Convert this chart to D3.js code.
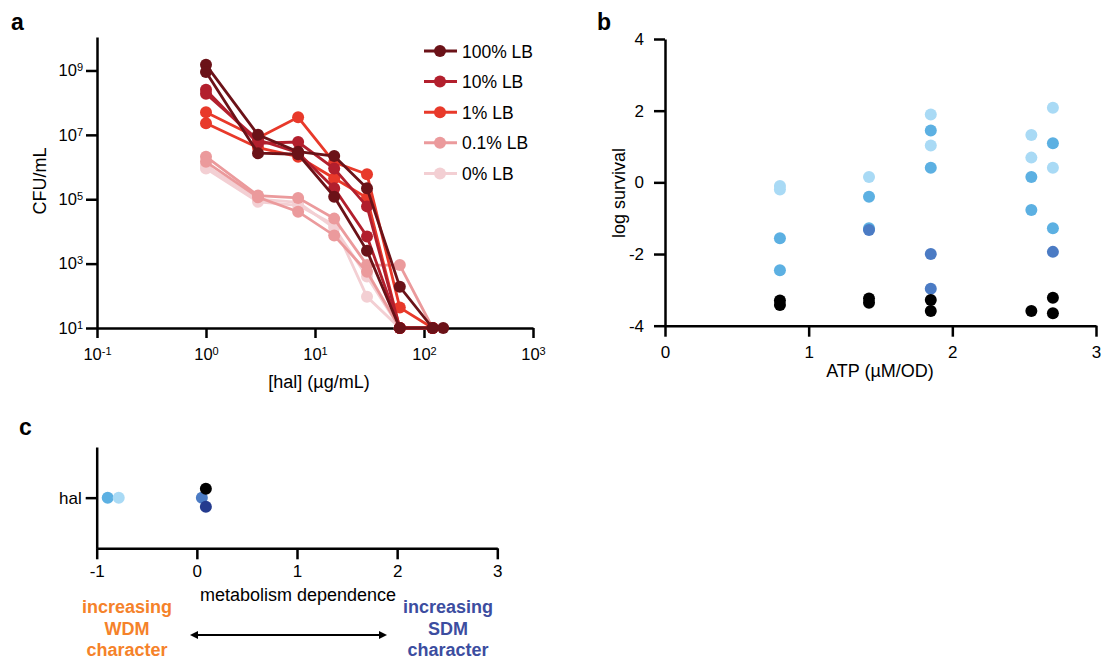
<!DOCTYPE html>
<meta charset="utf-8">
<script src="https://d3js.org/d3.v7.min.js"></script>
<style>
  body { margin: 0; background: #fff; }
  svg text { font-family: "Liberation Sans", Arial, Helvetica, sans-serif; }
  .axis path, .axis line { stroke: #000; stroke-width: 2.5px; }
  .axis text { fill: #000; }
</style>
<body>
<div id="chart"></div>
<script>
  // ---- panel a data: CFU/mL vs [hal] ----
  var concShort = [1, 3, 7, 15, 30, 60, 120]
  var concLong = [1, 3, 7, 15, 30, 60, 150]
  var lbLabels = ["100% LB", "10% LB", "1% LB", "0.1% LB", "0% LB"]
  var lbColors = ["#6b1218", "#b21f2d", "#e8392a", "#eb9a9c", "#f3cfd3"]
  var lb100a = [1.5e9, 1.0e7, 3.0e6, 2.2e6, 2.2e5, 190, 10]
  var lb100b = [9e8, 2.7e6, 2.5e6, 1.2e5, 2.5e3, 10, 10]
  var lb10a = [2.5e8, 5.5e6, 6.0e6, 9e5, 6e4, 10, 10]
  var lb10b = [1.9e8, 7e6, 2.8e6, 2.2e5, 7e3, 10, 10]
  var lb1a = [5e7, 8e6, 3.5e7, 1.4e6, 6e5, 43, 10]
  var lb1b = [2.3e7, 4e6, 2.1e6, 4.5e5, 1.1e5, 10, 10]
  var lb01a = [2.1e6, 1.3e5, 1.1e5, 2.5e4, 9e2, 9e2, 10]
  var lb01b = [1.45e6, 1.15e5, 4.1e4, 7.5e3, 5.6e2, 10, 10]
  var lb0a = [9e5, 8.3e4, 6.5e4, 1.6e4, 93, 10, 10]
  var lb0b = [1.1e6, 1e5, 8e4, 1.3e4, 4e2, 10, 10]
  var xTicksA = [0.1, 1, 10, 100, 1000]
  var yTicksA = [10, 1e3, 1e5, 1e7, 1e9]

  // ---- panel b data: log survival vs ATP ----
  var lightAtp = [0.80, 0.80, 1.42, 1.85, 1.85, 2.55, 2.55, 2.70, 2.70]
  var lightSurv = [-0.10, -0.20, 0.15, 1.89, 1.03, 1.32, 0.69, 2.08, 0.41]
  var midAtp = [0.80, 0.80, 1.42, 1.42, 1.85, 1.85, 2.55, 2.55, 2.70, 2.70]
  var midSurv = [-1.56, -2.45, -0.40, -1.28, 1.45, 0.41, 0.15, -0.77, 1.09, -1.28]
  var darkAtp = [1.42, 1.85, 1.85, 2.70]
  var darkSurv = [-1.33, -2.00, -2.97, -1.94]
  var blackAtp = [0.80, 0.80, 1.42, 1.42, 1.85, 1.85, 2.55, 2.70, 2.70]
  var blackSurv = [-3.30, -3.42, -3.24, -3.36, -3.28, -3.59, -3.59, -3.22, -3.65]
  var xTicksB = [0, 1, 2, 3]
  var yTicksB = [-4, -2, 0, 2, 4]

  // ---- panel c data: metabolism dependence ----
  var depGroups = ["mid", "light", "dark", "black", "navy"]
  var depValues = [-0.89, -0.78, 0.05, 0.09, 0.09]
  var xTicksC = [-1, 0, 1, 2, 3]

  var blueColors = { light: "#a9daf5", mid: "#5cb0e2", dark: "#4b7bc4", black: "#000000", navy: "#243b8e" }

  // plain hyphen for negatives, like the original figure
  var fmt = function(d) { return String(d) }

  var svg = d3.select("#chart").append("svg")
    .attr("width", 1103)
    .attr("height", 661)

  function sup(sel, exp) {
    sel.text(null)
    sel.append("tspan").text("10")
    sel.append("tspan").attr("dy", "-0.45em").style("font-size", "11px").text(exp)
  }

  // ===================== panel a =====================
  var xA = d3.scaleLog().domain([0.1, 1000]).range([97, 533])
  var yA = d3.scaleLog().domain([10, Math.pow(10, 10.04)]).range([328, 37])

  var gxA = svg.append("g").attr("class", "axis")
    .attr("transform", "translate(0,328)")
    .call(d3.axisBottom(xA).tickValues(xTicksA).tickSize(10).tickSizeOuter(0).tickPadding(10))
  gxA.selectAll(".tick text").style("font-size", "16.5px")
    .each(function(d) { sup(d3.select(this), String(Math.round(Math.log10(d)))) })

  var gyA = svg.append("g").attr("class", "axis")
    .attr("transform", "translate(97,0)")
    .call(d3.axisLeft(yA).tickValues(yTicksA).tickSize(11).tickSizeOuter(0).tickPadding(3))
  gyA.selectAll(".tick text").style("font-size", "16.5px")
    .each(function(d) { sup(d3.select(this), String(Math.round(Math.log10(d)))) })

  svg.append("text").attr("transform", "translate(46,181) rotate(-90)")
    .attr("text-anchor", "middle").style("font-size", "18px").text("CFU/mL")
  svg.append("text").attr("x", 319).attr("y", 388)
    .attr("text-anchor", "middle").style("font-size", "18px").text("[hal] (\u00b5g/mL)")

  var seriesA = [
    { c: 4, x: concShort, y: lb0a }, { c: 4, x: concShort, y: lb0b },
    { c: 3, x: concShort, y: lb01a }, { c: 3, x: concShort, y: lb01b },
    { c: 2, x: concShort, y: lb1a }, { c: 2, x: concShort, y: lb1b },
    { c: 1, x: concShort, y: lb10a }, { c: 1, x: concShort, y: lb10b },
    { c: 0, x: concShort, y: lb100a }, { c: 0, x: concLong, y: lb100b }
  ]

  var line = d3.line().x(function(d) { return xA(d[0]) }).y(function(d) { return yA(d[1]) })

  seriesA.forEach(function(s) {
    var pts = d3.zip(s.x, s.y)
    var g = svg.append("g")
    g.append("path").datum(pts).attr("d", line)
      .attr("fill", "none").attr("stroke", lbColors[s.c]).attr("stroke-width", 2.8)
    g.selectAll("circle").data(pts).enter().append("circle")
      .attr("cx", function(d) { return xA(d[0]) })
      .attr("cy", function(d) { return yA(d[1]) })
      .attr("r", 6).attr("fill", lbColors[s.c])
  })

  // legend
  var legend = svg.selectAll(".legend").data(lbLabels).enter().append("g")
    .attr("transform", function(d, i) { return "translate(0," + (51 + i * 30.6) + ")" })
  legend.append("line").attr("x1", 424).attr("x2", 457).attr("y1", 0).attr("y2", 0)
    .attr("stroke", function(d, i) { return lbColors[i] }).attr("stroke-width", 3)
  legend.append("circle").attr("cx", 440).attr("cy", 0).attr("r", 6)
    .attr("fill", function(d, i) { return lbColors[i] })
  legend.append("text").attr("x", 462).attr("y", 6.5).style("font-size", "17.5px").text(function(d) { return d })

  svg.append("text").attr("x", 11).attr("y", 30).style("font-size", "23px").style("font-weight", "bold").text("a")

  // ===================== panel b =====================
  var xB = d3.scaleLinear().domain([0, 3]).range([665, 1096])
  var yB = d3.scaleLinear().domain([-4, 4]).range([325.7, 39])

  var gxB = svg.append("g").attr("class", "axis")
    .attr("transform", "translate(0,325.7)")
    .call(d3.axisBottom(xB).tickValues(xTicksB).tickSize(11).tickSizeOuter(0).tickPadding(9).tickFormat(fmt))
  gxB.selectAll(".tick text").style("font-size", "17px")
  var gyB = svg.append("g").attr("class", "axis")
    .attr("transform", "translate(665,0)")
    .call(d3.axisLeft(yB).tickValues(yTicksB).tickSize(11).tickSizeOuter(0).tickPadding(10).tickFormat(fmt))
  gyB.selectAll(".tick text").style("font-size", "17px")

  svg.append("text").attr("transform", "translate(625,193) rotate(-90)")
    .attr("text-anchor", "middle").style("font-size", "18px").text("log survival")
  svg.append("text").attr("x", 880).attr("y", 377)
    .attr("text-anchor", "middle").style("font-size", "18px").text("ATP (\u00b5M/OD)")

  var groupsB = [
    { k: "light", x: lightAtp, y: lightSurv },
    { k: "mid", x: midAtp, y: midSurv },
    { k: "dark", x: darkAtp, y: darkSurv },
    { k: "black", x: blackAtp, y: blackSurv }
  ]
  groupsB.forEach(function(gr) {
    svg.append("g").selectAll("circle").data(d3.zip(gr.x, gr.y)).enter().append("circle")
      .attr("cx", function(d) { return xB(d[0]) })
      .attr("cy", function(d) { return yB(d[1]) })
      .attr("r", 6).attr("fill", blueColors[gr.k])
  })

  svg.append("text").attr("x", 597).attr("y", 30).style("font-size", "23px").style("font-weight", "bold").text("b")

  // ===================== panel c =====================
  var xC = d3.scaleLinear().domain([-1, 3]).range([96.7, 497.3])
  var yC = d3.scalePoint().domain(["hal"]).range([447, 548.3]).padding(0.5)

  var gxC = svg.append("g").attr("class", "axis")
    .attr("transform", "translate(0,548.3)")
    .call(d3.axisBottom(xC).tickValues(xTicksC).tickSize(11).tickSizeOuter(0).tickPadding(6).tickFormat(fmt))
  gxC.selectAll(".tick text").style("font-size", "17px")
  var gyC = svg.append("g").attr("class", "axis")
    .attr("transform", "translate(96.7,0)")
    .call(d3.axisLeft(yC).tickSize(11).tickSizeOuter(0).tickPadding(4))
  gyC.selectAll(".tick text").style("font-size", "17px")

  // simple dodge so that overlapping points stack vertically
  var placed = []
  depValues.forEach(function(v, i) {
    var px = xC(v), offs = [0, -9, 9, -18, 18], off = 0
    for (var j = 0; j < offs.length; j++) {
      var ok = placed.every(function(p) { return Math.hypot(p.x - px, p.o - offs[j]) >= 9 })
      if (ok) { off = offs[j]; break }
    }
    placed.push({ x: px, o: off, k: depGroups[i] })
  })
  svg.append("g").selectAll("circle").data(placed).enter().append("circle")
    .attr("cx", function(d) { return d.x })
    .attr("cy", function(d) { return yC("hal") + d.o })
    .attr("r", 6).attr("fill", function(d) { return blueColors[d.k] })

  svg.append("text").attr("x", 298).attr("y", 601)
    .attr("text-anchor", "middle").style("font-size", "18px").text("metabolism dependence")

  var wdm = svg.append("text").attr("text-anchor", "middle").style("font-size", "18px")
    .style("font-weight", "bold").attr("fill", "#f5822a")
  ;["increasing", "WDM", "character"].forEach(function(t, i) {
    wdm.append("tspan").attr("x", 127).attr("y", 613 + i * 21.5).text(t)
  })
  var sdm = svg.append("text").attr("text-anchor", "middle").style("font-size", "18px")
    .style("font-weight", "bold").attr("fill", "#3c4da0")
  ;["increasing", "SDM", "character"].forEach(function(t, i) {
    sdm.append("tspan").attr("x", 448).attr("y", 613 + i * 21.5).text(t)
  })

  // double arrow
  svg.append("line").attr("x1", 196).attr("x2", 381).attr("y1", 635).attr("y2", 635)
    .attr("stroke", "#000").attr("stroke-width", 2)
  svg.append("path").attr("d", "M190,635 L198,631 L198,639 Z").attr("fill", "#000")
  svg.append("path").attr("d", "M387,635 L379,631 L379,639 Z").attr("fill", "#000")

  svg.append("text").attr("x", 19).attr("y", 435).style("font-size", "23px").style("font-weight", "bold").text("c")
</script>
</body>
</html>
